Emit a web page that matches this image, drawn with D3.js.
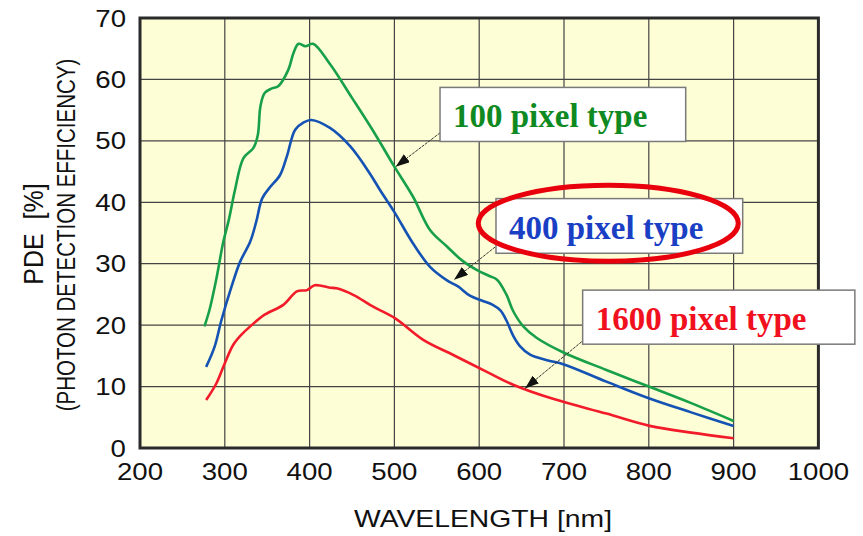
<!DOCTYPE html>
<html>
<head>
<meta charset="utf-8">
<script src="https://cdn.jsdelivr.net/npm/d3@7"></script>
<style>
  body { margin: 0; background: #fff; }
  svg text { font-family: "Liberation Sans", Arial, sans-serif; }
</style>
</head>
<body>
<div id="chart"></div>
<script>
// PDE vs wavelength, three pixel types
const xTicks = [200, 300, 400, 500, 600, 700, 800, 900, 1000];
const yTicks = [0, 10, 20, 30, 40, 50, 60, 70];

const greenNm  = [276, 282, 290, 298, 305, 312, 322, 334, 339, 342, 347, 355, 363, 375, 381, 387, 395, 404, 424, 450, 475, 500, 522, 542, 562, 580, 597, 612, 621, 632, 640, 652, 668, 700, 750, 800, 850, 900];
const greenPde = [19.8, 22.5, 27.5, 33.4, 37.3, 42, 47.2, 48.9, 51, 55.6, 57.8, 58.5, 58.9, 61.6, 64.3, 65.8, 65.4, 65.8, 62.5, 57, 51.6, 45.8, 40.9, 35.5, 32.8, 30.5, 29, 28, 27.4, 25, 22.3, 19.8, 17.9, 15.5, 12.7, 10, 7.3, 4.4];

const blueNm  = [278, 288, 296, 308, 318, 330, 337, 344, 353, 365, 373, 383, 393, 402, 424, 448, 471, 483, 500, 522, 542, 562, 575, 589, 603, 616, 625, 632, 640, 648, 660, 680, 700, 750, 800, 850, 900];
const bluePde = [13.2, 16.5, 20.8, 26.3, 30.3, 33.6, 36.8, 40.6, 42.4, 44.4, 47.4, 51.8, 53, 53.4, 52.1, 49.1, 44.7, 42, 38.4, 33.3, 29.5, 27.3, 26.3, 24.8, 24, 23.3, 22.4, 20.8, 18.3, 16.6, 15.2, 14.3, 13.6, 10.8, 8.1, 5.8, 3.6];

const redNm  = [278, 290, 300, 310, 320, 330, 347, 369, 385, 397, 406, 424, 432, 452, 475, 501, 534, 570, 609, 640, 687, 750, 801, 850, 900];
const redPde = [7.8, 10.5, 13.8, 16.8, 18.5, 19.8, 21.7, 23.3, 25.5, 25.7, 26.5, 26.1, 26, 24.9, 23, 21.1, 17.6, 15.1, 12.4, 10.3, 8, 5.6, 3.6, 2.5, 1.6];

const seriesNames = ["100 pixel type", "400 pixel type", "1600 pixel type"];

const W = 863, H = 536;
const x = d3.scaleLinear().domain([200, 1000]).range([140, 818.4]);
const y = d3.scaleLinear().domain([0, 70]).range([448, 18]);

const svg = d3.select("#chart").append("svg")
    .attr("width", W).attr("height", H);

const defs = svg.append("defs");
defs.append("marker")
    .attr("id", "arrow")
    .attr("viewBox", "0 0 14 10")
    .attr("refX", 14).attr("refY", 5)
    .attr("markerWidth", 14).attr("markerHeight", 10)
    .attr("markerUnits", "userSpaceOnUse")
    .attr("orient", "auto")
    .append("path")
    .attr("d", "M0,0 L14,5 L0,10 Z")
    .attr("fill", "#111");

// stretch text a little wider, the source image is squashed
function widen(sel, k) {
    sel.each(function () {
        const w = this.getComputedTextLength();
        d3.select(this).attr("textLength", w * k).attr("lengthAdjust", "spacingAndGlyphs");
    });
}

// plot background
svg.append("rect")
    .attr("x", x(200)).attr("y", y(70))
    .attr("width", x(1000) - x(200)).attr("height", y(0) - y(70))
    .attr("fill", "#fdfdd6");

// grid
svg.append("g").selectAll("line")
    .data(yTicks.slice(1, -1))
    .join("line")
    .attr("x1", x(200)).attr("x2", x(1000))
    .attr("y1", d => y(d)).attr("y2", d => y(d))
    .attr("stroke", "#444").attr("stroke-width", 1.2);

svg.append("g").selectAll("line")
    .data(xTicks.slice(1, -1))
    .join("line")
    .attr("y1", y(0)).attr("y2", y(70))
    .attr("x1", d => x(d)).attr("x2", d => x(d))
    .attr("stroke", "#444").attr("stroke-width", 1.2);

// curves
const line = d3.line()
    .x(d => x(d[0])).y(d => y(d[1]))
    .curve(d3.curveCatmullRom.alpha(0.5));

const series = [
    {nm: greenNm, pde: greenPde, color: "#17a047"},
    {nm: blueNm, pde: bluePde, color: "#1452b4"},
    {nm: redNm, pde: redPde, color: "#f21b2a"}
];

series.forEach(s => {
    svg.append("path")
        .datum(s.nm.map((v, i) => [v, s.pde[i]]))
        .attr("d", line)
        .attr("fill", "none")
        .attr("stroke", s.color)
        .attr("stroke-width", 2.6)
        .attr("stroke-linejoin", "round");
});

// frame
svg.append("rect")
    .attr("x", x(200)).attr("y", y(70))
    .attr("width", x(1000) - x(200)).attr("height", y(0) - y(70))
    .attr("fill", "none")
    .attr("stroke", "#2a2a2a").attr("stroke-width", 3);

// tick labels
svg.append("g").selectAll("text")
    .data(yTicks)
    .join("text")
    .attr("x", 126).attr("y", d => y(d) + 8.5)
    .attr("text-anchor", "end")
    .attr("font-size", 24)
    .attr("fill", "#111")
    .text(d => d)
    .call(widen, 1.15);

svg.append("g").selectAll("text")
    .data(xTicks)
    .join("text")
    .attr("x", d => x(d)).attr("y", 480)
    .attr("text-anchor", "middle")
    .attr("font-size", 24)
    .attr("fill", "#111")
    .text(d => d)
    .call(widen, 1.15);

// axis titles
svg.append("text")
    .attr("x", 483).attr("y", 527)
    .attr("text-anchor", "middle")
    .attr("font-size", 24)
    .attr("fill", "#111")
    .text("WAVELENGTH [nm]")
    .call(widen, 1.18);

svg.append("text")
    .attr("transform", "translate(43,234) rotate(-90) scale(1,1.08)")
    .attr("text-anchor", "middle")
    .attr("font-size", 25)
    .attr("fill", "#111")
    .attr("xml:space", "preserve")
    .text("PDE  [%]");

svg.append("text")
    .attr("transform", "translate(74.5,235) rotate(-90) scale(1,1.22)")
    .attr("text-anchor", "middle")
    .attr("font-size", 20.5)
    .attr("fill", "#111")
    .text("(PHOTON DETECTION EFFICIENCY)");

// annotation boxes, positioned in data units
const notes = [
    {text: seriesNames[0], color: "#0f8a22", box: [553.8, 843.5, 58.7, 49.9], from: [553.8, 51.3], to: [501.5, 45.8]},
    {text: seriesNames[1], color: "#1a3fc4", box: [619.8, 910.7, 40.6, 31.7], from: [618.6, 32.7], to: [570.3, 27.4]},
    {text: seriesNames[2], color: "#f0101e", box: [722, 1043, 25.7, 16.9], from: [720.8, 17.3], to: [654, 9.7]}
];

notes.forEach(n => {
    svg.append("line")
        .attr("x1", x(n.from[0])).attr("y1", y(n.from[1]))
        .attr("x2", x(n.to[0])).attr("y2", y(n.to[1]))
        .attr("stroke", "#333").attr("stroke-width", 1)
        .attr("stroke-dasharray", "3,1")
        .attr("marker-end", "url(#arrow)");

    const bx = x(n.box[0]), by = y(n.box[2]);
    const bw = x(n.box[1]) - bx, bh = y(n.box[3]) - by;
    svg.append("rect")
        .attr("x", bx).attr("y", by)
        .attr("width", bw).attr("height", bh)
        .attr("fill", "#fff")
        .attr("stroke", "#7a7a7a").attr("stroke-width", 1.5);

    svg.append("text")
        .attr("x", bx + 13).attr("y", by + bh - 14)
        .style("font-family", "'Liberation Serif', 'Times New Roman', serif")
        .attr("font-weight", "bold")
        .attr("font-size", 33)
        .attr("fill", n.color)
        .text(n.text);
});

// red highlight ring round the 400 pixel label
svg.append("ellipse")
    .attr("cx", x(752.2)).attr("cy", y(36.6))
    .attr("rx", 130).attr("ry", 38)
    .attr("fill", "none")
    .attr("stroke", "#e8000c").attr("stroke-width", 5);
</script>
</body>
</html>
